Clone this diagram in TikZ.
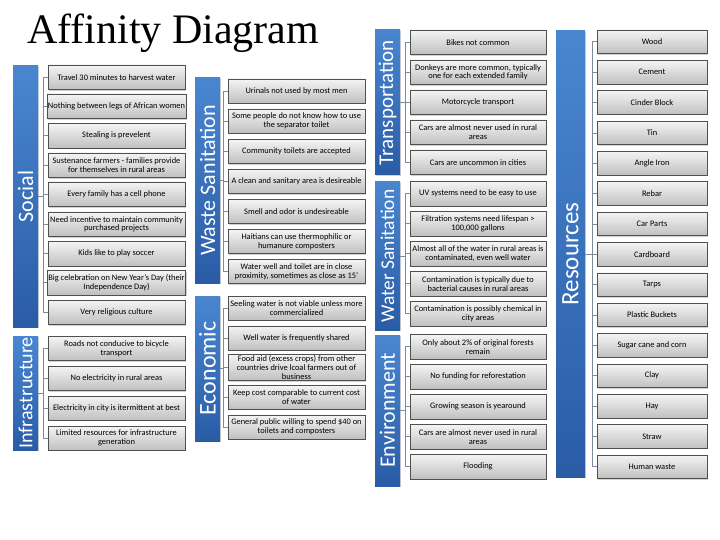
\documentclass[tikz,border=0pt]{standalone}
\usepackage{fontspec}
\setmainfont{Carlito}
\newfontfamily\titlefont{Liberation Serif}
\usetikzlibrary{shadows}
\definecolor{bartop}{RGB}{74,134,208}
\definecolor{barbot}{RGB}{42,92,166}
\definecolor{itop}{RGB}{244,244,244}
\definecolor{ibot}{RGB}{192,192,192}
\definecolor{iborder}{RGB}{80,80,80}
\definecolor{conncol}{RGB}{125,138,158}
\tikzset{
  catbar/.style={rectangle, inner sep=0pt, top color=bartop, bottom color=barbot, draw=none,
    drop shadow={shadow xshift=1.2pt, shadow yshift=-1.2pt, opacity=.35}},
  catlabel/.style={rotate=90, text=white, inner sep=0pt, font=\fontsize{#1}{#1}\selectfont},
  entry/.style={rectangle, inner sep=1pt, top color=itop, bottom color=ibot, draw=iborder,
    line width=0.6pt, align=center, font=\fontsize{8.4}{8.8}\selectfont, text=black,
    drop shadow={shadow xshift=1.2pt, shadow yshift=-1.2pt, opacity=.35}},
  conn/.style={draw=conncol, line width=0.6pt}
}
% #1 name, #2 bar x1, #3 bar x2, #4 bar y1, #5 bar y2, #6 label size, #7 label, #8 items top/height/text
\newcommand\catgroup[8]{%
  \node[catbar, minimum width={#3pt-#2pt}, minimum height={#5pt-#4pt}] (#1bar) at ({(#2+#3)/2},{(#4+#5)/2}) {};
  \node[catlabel=#6] (#1lab) at (#1bar.center) {#7};
  \coordinate (#1v) at ({\ixa-5},{(#4+#5)/2});
  \draw[conn] (#1bar.east) -- (#1v);
  \foreach \t/\h/\s [count=\i] in {#8} {
    \node[entry, minimum width={\ixb pt-\ixa pt}, minimum height=\h pt] (#1\i) at ({(\ixa+\ixb)/2},{\t+\h/2}) {\s};
    \draw[conn] (#1v |- #1\i.west) -- (#1\i.west);
    \xdef\lastidx{\i}
  }
  \draw[conn] (#1v |- #11.west) -- (#1v |- #1\lastidx.west);
}
\begin{document}
\begin{tikzpicture}[x=1pt,y=-1pt]
\useasboundingbox[fill=white] (0,0) rectangle (720,540);
\node[anchor=base west, inner sep=0pt, font=\titlefont\fontsize{42}{42}\selectfont] (title) at (27,44) {Affinity Diagram};

\def\ixa{48}\def\ixb{185}
\catgroup{soc}{13}{38}{66}{327}{22}{Social}{%
 65/24.5/{Travel 30 minutes to harvest water},
 94/24.5/{Nothing between legs of African women},
 123.5/24.5/{Stealing is prevelent},
 153/24.5/{Sustenance farmers - families provide\\for themselves in rural areas},
 182/24.5/{Every family has a cell phone},
 212/24.5/{Need incentive to maintain community\\purchased projects},
 241.5/24.5/{Kids like to play soccer},
 270.5/24.5/{Big celebration on New Year’s Day (their\\Independence Day)},
 300/24.5/{Very religious culture}}
\catgroup{inf}{13}{38}{336}{450}{20}{Infrastructure}{%
 336.5/24/{Roads not conducive to bicycle\\transport},
 366.5/24/{No electricity in rural areas},
 396/24/{Electricity in city is itermittent at best},
 426/24/{Limited resources for infrastructure\\generation}}

\def\ixa{228}\def\ixb{365}
\catgroup{was}{195}{220}{78}{283}{22}{Waste Sanitation}{%
 79/24/{Urinals not used by most men},
 109/24/{Some people do not know how to use\\the separator toilet},
 139.5/24/{Community toilets are accepted},
 169.5/24/{A clean and sanitary area is desireable},
 199.5/24/{Smell and odor is undesireable},
 229.5/24/{Haitians can use thermophilic or\\humanure composters},
 259.5/24/{Water well and toilet are in close\\proximity, sometimes as close as 15’}}
\catgroup{eco}{195}{220}{296}{441}{24}{Economic}{%
 296/24/{Seeling water is not viable unless more\\commercialized},
 326/24/{Well water is frequently shared},
 355.5/24/{Food aid (excess crops) from other\\countries drive lcoal farmers out of\\business},
 385/24/{Keep cost comparable to current cost\\of water},
 415/24/{General public willing to spend \$40 on\\toilets and composters}}

\def\ixa{410}\def\ixb{546}
\catgroup{tra}{375}{400}{30}{175}{21}{Transportation}{%
 30/24.5/{Bikes not common},
 60/24.5/{Donkeys are more common, typically\\one for each extended family},
 90/24.5/{Motorcycle transport},
 120/24.5/{Cars are almost never used in rural\\areas},
 150/24.5/{Cars are uncommon in cities}}
\catgroup{wat}{375}{400}{182}{330}{19.5}{Water Sanitation}{%
 181.5/24.5/{UV systems need to be easy to use},
 211.5/24.5/{Filtration systems need lifespan >\\100,000 gallons},
 241.5/24.5/{Almost all of the water in rural areas is\\contaminated, even well water},
 271.5/24.5/{Contamination is typically due to\\bacterial causes in rural areas},
 301.5/24.5/{Contamination is possibly chemical in\\city areas}}
\catgroup{env}{375}{400}{335}{486}{22}{Environment}{%
 334.5/24.5/{Only about 2\% of original forests\\remain},
 364.5/24.5/{No funding for reforestation},
 394.5/24.5/{Growing season is yearound},
 424.5/24.5/{Cars are almost never used in rural\\areas},
 454.5/24.5/{Flooding}}

\def\ixa{597}\def\ixb{707}
\catgroup{res}{556}{585}{31}{477}{25}{Resources}{%
 30/23.5/{Wood},
 60.4/23.5/{Cement},
 90.7/23.5/{Cinder Block},
 121.1/23.5/{Tin},
 151.4/23.5/{Angle Iron},
 181.8/23.5/{Rebar},
 212.2/23.5/{Car Parts},
 242.5/23.5/{Cardboard},
 272.9/23.5/{Tarps},
 303.2/23.5/{Plastic Buckets},
 333.6/23.5/{Sugar cane and corn},
 364/23.5/{Clay},
 394.3/23.5/{Hay},
 424.7/23.5/{Straw},
 455/23.5/{Human waste}}
\end{tikzpicture}
\end{document}
